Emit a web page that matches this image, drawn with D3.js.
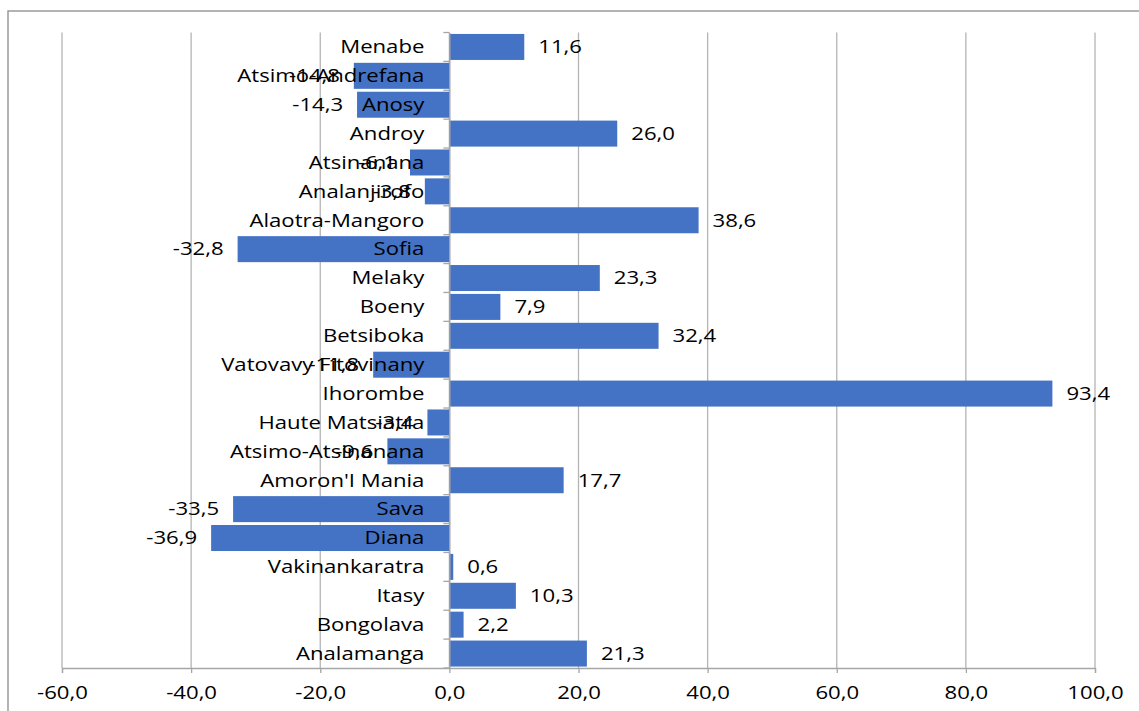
<!DOCTYPE html>
<html>
<head>
<meta charset="utf-8">
<script src="https://cdn.jsdelivr.net/npm/d3@7"></script>
<style>
  html, body { margin: 0; padding: 0; background: #ffffff; }
  svg { display: block; }
  text { font-family: "Open Sans", sans-serif; fill: #000000; }
</style>
</head>
<body>
<svg id="chart" width="1139" height="711"></svg>
<script>
// Regions, top to bottom, with their values
const regions = [
  "Menabe", "Atsimo-Andrefana", "Anosy", "Androy", "Atsinanana", "Analanjirofo",
  "Alaotra-Mangoro", "Sofia", "Melaky", "Boeny", "Betsiboka", "Vatovavy Fitovinany",
  "Ihorombe", "Haute Matsiatra", "Atsimo-Atsinanana", "Amoron'I Mania", "Sava",
  "Diana", "Vakinankaratra", "Itasy", "Bongolava", "Analamanga"
];
const values = [
  11.6, -14.8, -14.3, 26.0, -6.1, -3.8,
  38.6, -32.8, 23.3, 7.9, 32.4, -11.8,
  93.4, -3.4, -9.6, 17.7, -33.5,
  -36.9, 0.6, 10.3, 2.2, 21.3
];
const xTicks = [-60, -40, -20, 0, 20, 40, 60, 80, 100];

const svg = d3.select("#chart");
const fmt = v => v.toFixed(1).replace(".", ",");
const STRETCH = 1.23;

const x = d3.scaleLinear().domain([-60, 100]).range([62, 1095]);
const y = d3.scaleBand().domain(regions).range([32.5, 668]).paddingInner(0.1).paddingOuter(0.05);

// outer frame
svg.append("rect")
  .attr("x", 8).attr("y", 11).attr("width", 1200).attr("height", 800)
  .attr("fill", "none").attr("stroke", "#8c8c8c").attr("stroke-width", 1.3);

// vertical gridlines
svg.append("g").selectAll("line").data(xTicks).join("line")
  .attr("x1", d => x(d)).attr("x2", d => x(d))
  .attr("y1", 32.5).attr("y2", 668)
  .attr("stroke", "#b4b4b4").attr("stroke-width", 1.3);

// horizontal axis with ticks below
const xAxis = d3.axisBottom(x).tickValues(xTicks).tickSize(5).tickPadding(11).tickFormat(fmt);
const gx = svg.append("g").attr("transform", "translate(0,668)").call(xAxis);
gx.select(".domain").attr("stroke", "#a6a6a6").attr("stroke-width", 1.3);
gx.selectAll(".tick line").attr("stroke", "#a6a6a6").attr("stroke-width", 1.3);
gx.selectAll(".tick text").remove();
gx.selectAll(".tick").append("text")
  .attr("transform", `translate(0,693) scale(${STRETCH},1)`)
  .attr("y", -668 + 668)
  .attr("dy", "0.35em")
  .attr("text-anchor", "middle")
  .attr("font-size", 18)
  .text(d => fmt(d));
gx.selectAll(".tick text").attr("transform", `translate(0,25) scale(${STRETCH},1)`);

// bars
svg.append("g").selectAll("rect").data(regions).join("rect")
  .attr("x", (d, i) => x(Math.min(0, values[i])))
  .attr("width", (d, i) => Math.abs(x(values[i]) - x(0)))
  .attr("y", d => y(d))
  .attr("height", y.bandwidth())
  .attr("fill", "#4472c4");

// zero axis with category ticks
const yAxis = d3.axisLeft(y).tickSize(0).tickFormat("");
const gy = svg.append("g").attr("transform", `translate(${x(0)},0)`).call(yAxis);
gy.select(".domain").attr("stroke", "#a6a6a6").attr("stroke-width", 1.3);
const step = y.step();
const bounds = d3.range(regions.length + 1).map(i => 32.5 + i * step);
gy.append("g").selectAll("line").data(bounds).join("line")
  .attr("x1", -6).attr("x2", 0)
  .attr("y1", d => d).attr("y2", d => d)
  .attr("stroke", "#a6a6a6").attr("stroke-width", 1.3);

// category labels
svg.append("g").selectAll("text").data(regions).join("text")
  .attr("transform", d => `translate(${x(0) - 25},${y(d) + y.bandwidth() / 2}) scale(${STRETCH},1)`)
  .attr("dy", "0.35em")
  .attr("text-anchor", "end")
  .attr("font-size", 18)
  .text(d => d);

// value labels
svg.append("g").selectAll("text").data(regions).join("text")
  .attr("transform", (d, i) => {
    const v = values[i];
    const px = v >= 0 ? x(v) + 14 : x(v) - 14;
    return `translate(${px},${y(d) + y.bandwidth() / 2}) scale(${STRETCH},1)`;
  })
  .attr("dy", "0.35em")
  .attr("text-anchor", (d, i) => values[i] >= 0 ? "start" : "end")
  .attr("font-size", 18)
  .text((d, i) => fmt(values[i]));
</script>
</body>
</html>
